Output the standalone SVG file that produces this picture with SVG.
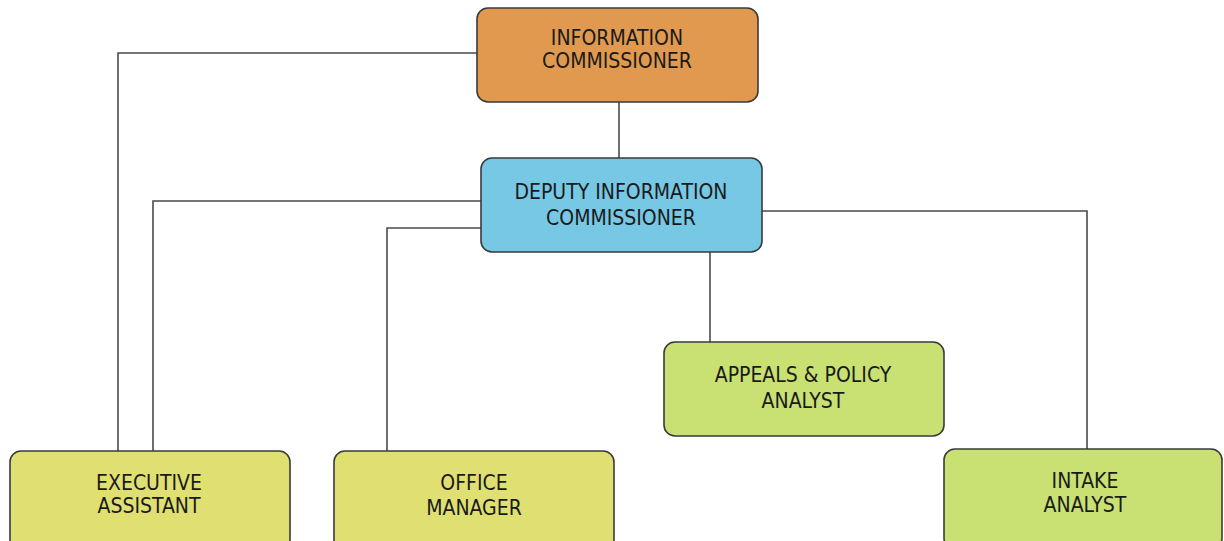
<svg xmlns="http://www.w3.org/2000/svg" width="1224" height="541" viewBox="0 0 1224 541">
<style>
.box{stroke:#3a3a3a;stroke-width:1.6}
.t{font-family:"DejaVu Sans Condensed","DejaVu Sans",sans-serif;font-size:21px;fill:#1a1a1a;text-anchor:middle}
.c{fill:none;stroke:#4a4a4a;stroke-width:1.6}
</style>
<rect width="1224" height="541" fill="#ffffff"/>
<g id="connectors">
<path class="c" d="M619,101 V158"/>
<path class="c" d="M477,53 H118 V451"/>
<path class="c" d="M481,201 H153 V451"/>
<path class="c" d="M481,228 H387 V451"/>
<path class="c" d="M762,211 H1087 V449"/>
<path class="c" d="M710,252 V342"/>
</g>
<g id="information-commissioner">
<rect class="box" x="477" y="8" width="281" height="94" rx="11" fill="#E0994F"/>
<text class="t" x="617" y="45">INFORMATION</text>
<text class="t" x="617" y="68">COMMISSIONER</text>
</g>
<g id="deputy-information-commissioner">
<rect class="box" x="481" y="158" width="281" height="94" rx="11" fill="#76C8E4"/>
<text class="t" x="621" y="199">DEPUTY INFORMATION</text>
<text class="t" x="621" y="225">COMMISSIONER</text>
</g>
<g id="appeals-policy-analyst">
<rect class="box" x="664" y="342" width="280" height="94" rx="11" fill="#C9E072"/>
<text class="t" x="803" y="382">APPEALS &amp; POLICY</text>
<text class="t" x="803" y="408">ANALYST</text>
</g>
<g id="executive-assistant">
<rect class="box" x="10" y="451" width="280" height="100" rx="11" fill="#E0E072"/>
<text class="t" x="149" y="490">EXECUTIVE</text>
<text class="t" x="149" y="513">ASSISTANT</text>
</g>
<g id="office-manager">
<rect class="box" x="334" y="451" width="280" height="100" rx="11" fill="#E0E072"/>
<text class="t" x="474" y="490">OFFICE</text>
<text class="t" x="474" y="515">MANAGER</text>
</g>
<g id="intake-analyst">
<rect class="box" x="944" y="449" width="278" height="100" rx="11" fill="#C9E072"/>
<text class="t" x="1085" y="488">INTAKE</text>
<text class="t" x="1085" y="512">ANALYST</text>
</g>
</svg>
